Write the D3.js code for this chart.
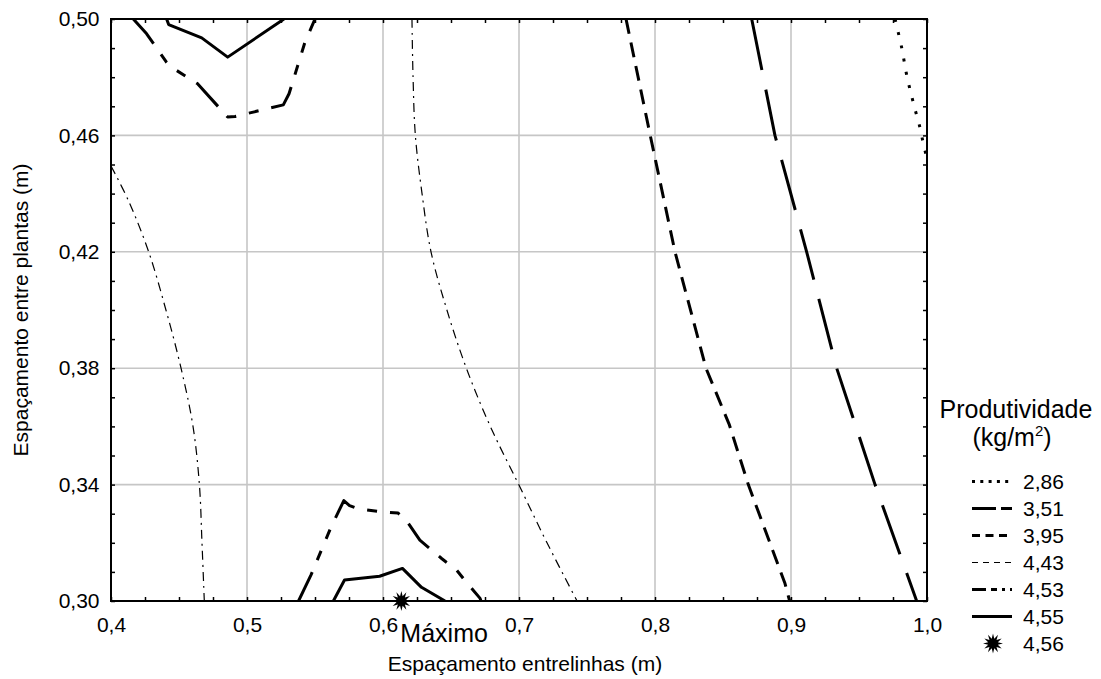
<!DOCTYPE html>
<html>
<head>
<meta charset="utf-8">
<script src="https://cdn.jsdelivr.net/npm/d3@7"></script>
<style>
  html, body { margin: 0; padding: 0; background: #fff; }
  svg { display: block; font-family: "Liberation Sans", Arial, sans-serif; }
</style>
</head>
<body>
<svg id="chart" width="1101" height="679"></svg>
<script>
// Axis ticks and labels
const xTickValues = [0.4, 0.5, 0.6, 0.7, 0.8, 0.9, 1.0];
const xTickLabels = ["0,4", "0,5", "0,6", "0,7", "0,8", "0,9", "1,0"];
const yTickValues = [0.30, 0.34, 0.38, 0.42, 0.46, 0.50];
const yTickLabels = ["0,30", "0,34", "0,38", "0,42", "0,46", "0,50"];

// Contour levels (kg/m²)
const levels = ["2,86", "3,51", "3,95", "4,43", "4,53", "4,55", "4,56"];

// Iso-lines: [espaçamento entrelinhas, espaçamento entre plantas]
const contour286 = [[0.9765, 0.50], [0.9814, 0.4901], [0.985, 0.4809], [0.99, 0.4711],
  [0.9949, 0.4625], [0.9973, 0.4572], [0.9995, 0.4530]];
const contour351 = [[0.8711, 0.50], [0.8882, 0.46], [0.9115, 0.42], [0.9336, 0.38],
  [0.9618, 0.34], [0.9924, 0.30]];
const contour395 = [[0.7787, 0.50], [0.7965, 0.46], [0.8147, 0.42], [0.8375, 0.38],
  [0.8547, 0.3605], [0.8686, 0.34], [0.8956, 0.306], [0.899, 0.30]];
const contour443Left = [[0.40, 0.4495], [0.413, 0.4374], [0.4277, 0.42], [0.4404, 0.40],
  [0.4515, 0.38], [0.4603, 0.36], [0.465, 0.34], [0.4669, 0.32], [0.4686, 0.30]];
const contour443Right = [[0.6213, 0.50], [0.6221, 0.48], [0.6238, 0.46], [0.6287, 0.44],
  [0.6353, 0.42], [0.647, 0.40], [0.6613, 0.38], [0.6789, 0.36], [0.6998, 0.34],
  [0.7206, 0.32], [0.7427, 0.30]];
const contour453Top = [[0.4164, 0.50], [0.4262, 0.4949], [0.4409, 0.4851], [0.4446, 0.4834],
  [0.4635, 0.4778], [0.4858, 0.4663], [0.4912, 0.4665], [0.5267, 0.4705], [0.5309, 0.4743],
  [0.5426, 0.492], [0.55, 0.50]];
const contour453Bottom = [[0.5379, 0.30], [0.547, 0.3089], [0.5618, 0.3254], [0.5712, 0.3345],
  [0.5754, 0.3328], [0.5815, 0.3317], [0.6012, 0.3305], [0.6111, 0.3302], [0.6172, 0.3277],
  [0.6271, 0.3209], [0.6431, 0.3146], [0.6542, 0.3106], [0.6591, 0.3077], [0.6714, 0.3009],
  [0.672, 0.30]];
const contour455Top = [[0.4409, 0.50], [0.4424, 0.4981], [0.4667, 0.4935], [0.4858, 0.4869],
  [0.5272, 0.50]];
const contour455Bottom = [[0.5635, 0.30], [0.5717, 0.3072], [0.5975, 0.3085], [0.6143, 0.3112],
  [0.6283, 0.3047], [0.6456, 0.30]];
const maximumPoint = [0.6135, 0.30];
const maximumLabel = "Máximo";

// Which level each line belongs to
const contourLines = [
  { level: 0, points: contour286, smooth: true },
  { level: 1, points: contour351, smooth: false },
  { level: 2, points: contour395, smooth: false },
  { level: 3, points: contour443Left, smooth: true },
  { level: 3, points: contour443Right, smooth: true },
  { level: 4, points: contour453Top, smooth: false },
  { level: 4, points: contour453Bottom, smooth: false },
  { level: 5, points: contour455Top, smooth: false },
  { level: 5, points: contour455Bottom, smooth: false }
];

// Line styles per level
const lineWidths = [3, 3, 3, 1.2, 3, 3];
const plotDash = ["3,10.5", "52,20", "15,9", "9,5,2,5", "32,13,10,13,10,13", null];
const legendDash = ["3,5.3", "24,5", "8,5.5", "6,5", "14,5,6,5,3,5", null];

const svg = d3.select("#chart");
const plotLeft = 111, plotRight = 927, plotTop = 19, plotBottom = 601;

const x = d3.scaleLinear().domain([0.4, 1.0]).range([plotLeft, plotRight]);
const y = d3.scaleLinear().domain([0.30, 0.50]).range([plotBottom, plotTop]);

// grid
const grid = svg.append("g").attr("stroke", "#c6c6c6").attr("stroke-width", 1.6);
grid.selectAll("line.v").data(xTickValues.slice(1, -1)).join("line")
  .attr("x1", d => x(d)).attr("x2", d => x(d)).attr("y1", plotTop).attr("y2", plotBottom);
grid.selectAll("line.h").data(yTickValues.slice(1, -1)).join("line")
  .attr("y1", d => y(d)).attr("y2", d => y(d)).attr("x1", plotLeft).attr("x2", plotRight);

// contour lines
svg.append("clipPath").attr("id", "plotClip").append("rect")
  .attr("x", plotLeft).attr("y", plotTop)
  .attr("width", plotRight - plotLeft).attr("height", plotBottom - plotTop);

const lineLinear = d3.line().x(d => x(d[0])).y(d => y(d[1]));
const lineSmooth = d3.line().x(d => x(d[0])).y(d => y(d[1])).curve(d3.curveCatmullRom.alpha(0.5));

svg.append("g").attr("clip-path", "url(#plotClip)")
  .selectAll("path").data(contourLines).join("path")
  .attr("d", d => (d.smooth ? lineSmooth : lineLinear)(d.points))
  .attr("fill", "none")
  .attr("stroke", "#000")
  .attr("stroke-width", d => lineWidths[d.level])
  .attr("stroke-linejoin", "round")
  .attr("stroke-dasharray", d => plotDash[d.level]);

// frame with inward ticks on every side
const minorX = d3.range(0, 25).map(i => +(0.4 + i * 0.025).toFixed(3));
const minorY = d3.range(0, 21).map(i => +(0.30 + i * 0.01).toFixed(2));

function styleTicks(g) {
  g.select(".domain").remove();
  g.selectAll(".tick line").attr("stroke", "#000").attr("stroke-width", 1.5);
}
svg.append("g").attr("transform", `translate(0,${plotBottom})`)
  .call(d3.axisBottom(x).tickValues(minorX).tickSize(-4).tickFormat("")).call(styleTicks);
svg.append("g").attr("transform", `translate(0,${plotTop})`)
  .call(d3.axisTop(x).tickValues(minorX).tickSize(-4).tickFormat("")).call(styleTicks);
svg.append("g").attr("transform", `translate(${plotLeft},0)`)
  .call(d3.axisLeft(y).tickValues(minorY).tickSize(-4).tickFormat("")).call(styleTicks);
svg.append("g").attr("transform", `translate(${plotRight},0)`)
  .call(d3.axisRight(y).tickValues(minorY).tickSize(-4).tickFormat("")).call(styleTicks);

svg.append("rect").attr("x", plotLeft).attr("y", plotTop)
  .attr("width", plotRight - plotLeft).attr("height", plotBottom - plotTop)
  .attr("fill", "none").attr("stroke", "#000").attr("stroke-width", 2);

// tick labels
const xLabelAxis = svg.append("g").attr("transform", `translate(0,${plotBottom})`)
  .call(d3.axisBottom(x).tickValues(xTickValues).tickSize(0).tickPadding(16)
    .tickFormat((d, i) => xTickLabels[i]));
xLabelAxis.select(".domain").remove();
xLabelAxis.selectAll("text").attr("font-size", 21).attr("fill", "#000")
  .attr("font-family", "Liberation Sans, Arial, sans-serif");

const yLabelAxis = svg.append("g").attr("transform", `translate(${plotLeft},0)`)
  .call(d3.axisLeft(y).tickValues(yTickValues).tickSize(0).tickPadding(11.5)
    .tickFormat((d, i) => yTickLabels[i]));
yLabelAxis.select(".domain").remove();
yLabelAxis.selectAll("text").attr("font-size", 21).attr("fill", "#000")
  .attr("font-family", "Liberation Sans, Arial, sans-serif");

// axis titles
svg.append("text").attr("x", 525).attr("y", 671).attr("text-anchor", "middle")
  .attr("font-size", 21).text("Espaçamento entrelinhas (m)");
svg.append("text").attr("transform", `translate(28,${(plotTop + plotBottom) / 2}) rotate(-90)`)
  .attr("text-anchor", "middle").attr("font-size", 21).text("Espaçamento entre plantas (m)");

// star marker for the maximum
function starPath(r1, r2, n) {
  const pts = d3.range(n * 2).map(i => {
    const a = Math.PI * i / n - Math.PI / 2;
    const r = i % 2 === 0 ? r1 : r2;
    return [Math.cos(a) * r, Math.sin(a) * r];
  });
  return "M" + pts.map(p => p.join(",")).join("L") + "Z";
}
const star = starPath(10, 5, 12);

svg.append("path").attr("d", star)
  .attr("transform", `translate(${x(maximumPoint[0])},${y(maximumPoint[1])})`)
  .attr("fill", "#000");
svg.append("text").attr("x", x(maximumPoint[0]) - 1).attr("y", y(maximumPoint[1]) + 41)
  .attr("font-size", 25).text(maximumLabel);

// legend
const legend = svg.append("g");
legend.append("text").attr("x", 1016).attr("y", 418).attr("text-anchor", "middle")
  .attr("font-size", 25).text("Produtividade");
const unit = legend.append("text").attr("x", 1012).attr("y", 446).attr("text-anchor", "middle")
  .attr("font-size", 25);
unit.append("tspan").text("(kg/m");
unit.append("tspan").attr("font-size", 15).attr("dy", -10).text("2");
unit.append("tspan").attr("dy", 10).text(")");

const rowY = i => 481.5 + i * 27;
const rows = legend.selectAll("g.row").data(levels).join("g")
  .attr("transform", (d, i) => `translate(0,${rowY(i)})`);
rows.filter((d, i) => i < 6).append("line")
  .attr("x1", 972).attr("x2", 1012).attr("y1", 0).attr("y2", 0)
  .attr("stroke", "#000")
  .attr("stroke-width", (d, i) => lineWidths[i])
  .attr("stroke-dasharray", (d, i) => legendDash[i]);
rows.filter((d, i) => i === 6).append("path").attr("d", star)
  .attr("transform", "translate(993,0)").attr("fill", "#000");
rows.append("text").attr("x", 1023).attr("y", 7.5).attr("font-size", 21).text(d => d);
</script>
</body>
</html>
